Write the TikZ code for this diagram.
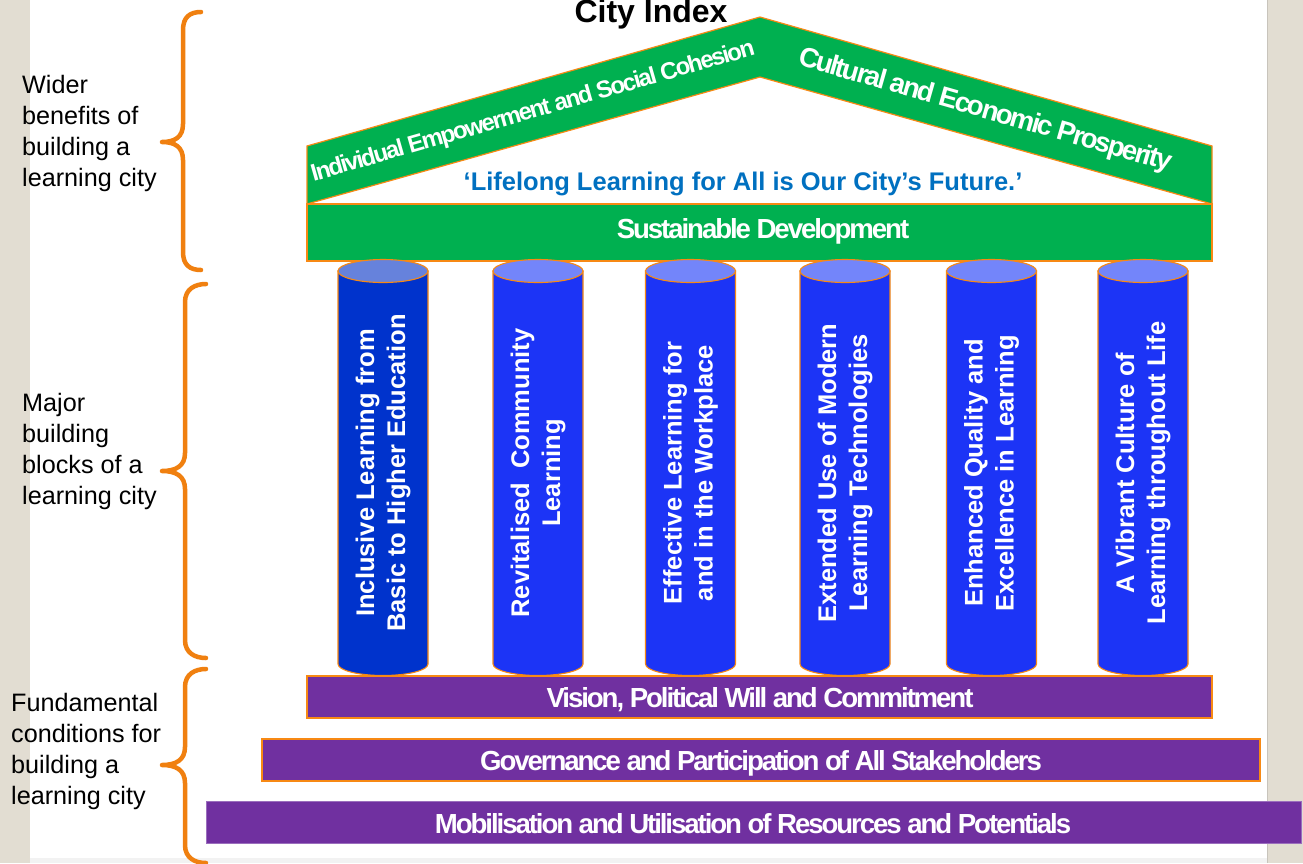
\documentclass[tikz,border=0pt]{standalone}
\usepackage{fontspec}
\setmainfont{Liberation Sans}
\newfontfamily\tightfont[LetterSpace=-7.5]{Liberation Sans}
\definecolor{beige}{RGB}{226,221,210}
\definecolor{panelgrey}{RGB}{200,196,188}
\definecolor{roofgreen}{RGB}{0,176,80}
\definecolor{edgeorange}{RGB}{247,137,20}
\definecolor{braceorange}{RGB}{240,128,16}
\definecolor{barpurple}{RGB}{112,48,160}
\definecolor{pillarA}{RGB}{0,51,204}
\definecolor{pillarAtop}{RGB}{102,130,220}
\definecolor{pillarB}{RGB}{28,52,246}
\definecolor{pillarBtop}{RGB}{115,133,250}
\definecolor{mottoblue}{RGB}{0,112,192}
\tikzset{
  greenband/.style={fill=roofgreen, draw=edgeorange, line width=1.2pt, line join=miter},
  purplebar/.style={fill=barpurple, draw=edgeorange, line width=1.2pt},
  barlabel/.style={text=white, font=\tightfont\bfseries\fontsize{27.6}{30}\selectfont, anchor=base, inner sep=0pt},
  rooflabel/.style={text=white, font=\tightfont\bfseries\fontsize{#1}{30}\selectfont, inner sep=0pt},
  pillarlabel/.style={text=white, font=\bfseries\fontsize{25.5}{31}\selectfont, rotate=90, align=center, inner sep=0pt},
  sidelabel/.style={text=black, font=\fontsize{25.2}{31}\selectfont, align=left, anchor=west, inner sep=0pt},
  bracestroke/.style={draw=braceorange, line width=4.5pt, line cap=round, line join=round},
  pillaredge/.style={draw=edgeorange, line width=1.1pt}
}
\newcommand{\drawpillar}[5]{%
  \path[fill=#3, pillaredge] (#1-45,271) -- (#1-45,664)
     arc[start angle=180, end angle=360, x radius=45pt, y radius=11.5pt]
     -- (#1+45,271) -- cycle;
  \path[fill=#4, pillaredge] (#1,271) ellipse [x radius=45pt, y radius=11.5pt];
  \node[pillarlabel] (#2) at (#1,473) {#5};
}
\begin{document}
\begin{tikzpicture}[x=1pt,y=-1pt]
\useasboundingbox (0,0) rectangle (1303,863);
% background
\fill[beige] (0,0) rectangle (1303,863);
\fill[white] (30,-5) rectangle (1267,858);
\fill[black!5] (30,858) rectangle (1267,863);
\draw[panelgrey, line width=1pt] (1267.5,-5) -- (1267.5,863);
% title
\node[font=\bfseries\fontsize{32}{36}\selectfont, anchor=base, inner sep=0pt] (title) at (651,22) {City Index};
% roof
\path[greenband] (307,146) -- (760,17) -- (1212,146) -- (1212,204) -- (760,77) -- (307,204) -- cycle;
\path[greenband] (307,204) rectangle (1212,261);
\node[rooflabel=24, rotate=16] (roofL) at (533,112) {Individual Empowerment and Social Cohesion};
\node[rooflabel=27.6, rotate=-16] (roofR) at (985,111) {Cultural and Economic Prosperity};
\node[text=mottoblue, font=\bfseries\fontsize{25.5}{30}\selectfont, anchor=base, inner sep=0pt] (motto) at (743,190) {‘Lifelong Learning for All is Our City’s Future.’};
\node[barlabel] (sustain) at (763,238) {Sustainable Development};
% pillars
\drawpillar{383}{pil1}{pillarA}{pillarAtop}{Inclusive Learning from\\Basic to Higher Education}
\drawpillar{538}{pil2}{pillarB}{pillarBtop}{Revitalised\ \ Community\\Learning}
\drawpillar{690.5}{pil3}{pillarB}{pillarBtop}{Effective Learning for\\and in the Workplace}
\drawpillar{845}{pil4}{pillarB}{pillarBtop}{Extended Use of Modern\\Learning Technologies}
\drawpillar{991.5}{pil5}{pillarB}{pillarBtop}{Enhanced Quality and\\Excellence in Learning}
\drawpillar{1143}{pil6}{pillarB}{pillarBtop}{A Vibrant Culture of\\Learning throughout Life}
% foundation bars
\path[purplebar] (307,676) rectangle (1212,718);
\node[barlabel] (vision) at (760,707) {Vision, Political Will and Commitment};
\path[purplebar] (262,739) rectangle (1260,781);
\node[barlabel] (govern) at (761,770) {Governance and Participation of All Stakeholders};
\path[fill=barpurple, draw=barpurple!70!white, line width=0.8pt] (206,801) rectangle (1301,843);
\node[barlabel] (mobil) at (753,833) {Mobilisation and Utilisation of Resources and Potentials};
% braces
\path[bracestroke] (201,12) .. controls (190,12) and (183,17) .. (183,30) -- (183,124)
   .. controls (183,137) and (175,142) .. (162,142)
   .. controls (175,142) and (183,147) .. (183,160) -- (183,252)
   .. controls (183,265) and (190,270) .. (201,270);
\path[bracestroke] (206,284) .. controls (195,284) and (185,289) .. (185,302) -- (185,453)
   .. controls (185,466) and (176,471) .. (162,471)
   .. controls (176,471) and (185,476) .. (185,489) -- (185,640)
   .. controls (185,653) and (195,658) .. (206,658);
\path[bracestroke] (206,669) .. controls (195,669) and (185,674) .. (185,687) -- (185,747)
   .. controls (185,760) and (176,765) .. (162,765)
   .. controls (176,765) and (185,770) .. (185,783) -- (185,845)
   .. controls (185,858) and (195,863) .. (206,863);
% side labels
\node[sidelabel] (lab1) at (22,133) {Wider\\benefits of\\building a\\learning city};
\node[sidelabel] (lab2) at (22,451) {Major\\building\\blocks of a\\learning city};
\node[sidelabel] (lab3) at (11,751) {Fundamental\\conditions for\\building a\\learning city};
\end{tikzpicture}
\end{document}
